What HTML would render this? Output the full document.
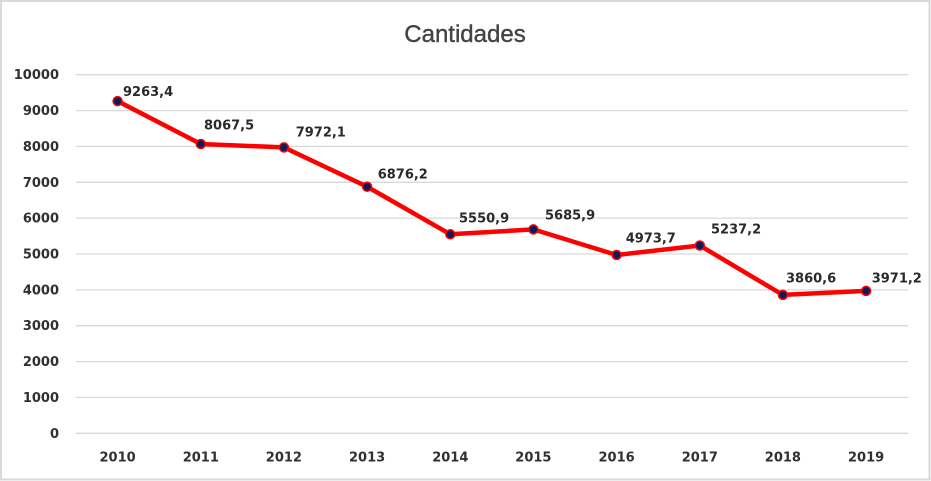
<!DOCTYPE html>
<html>
<head>
<meta charset="utf-8">
<style>
html,body{margin:0;padding:0;background:#fff;}
svg{display:block;}
</style>
</head>
<body>
<svg width="931" height="481" viewBox="0 0 931 481" xmlns="http://www.w3.org/2000/svg">
  <rect x="1" y="1" width="928.5" height="478.5" fill="#fff" stroke="#d9d9d9" stroke-width="2"/>
  <text x="465" y="42" text-anchor="middle" font-family="Liberation Sans, sans-serif" font-size="24" fill="#444444" stroke="#444444" stroke-width="0.4">Cantidades</text>
  <g stroke="#d9d9d9" stroke-width="1.3">
    <line x1="76" x2="908" y1="433.3" y2="433.3"/>
    <line x1="76" x2="908" y1="397.4" y2="397.4"/>
    <line x1="76" x2="908" y1="361.6" y2="361.6"/>
    <line x1="76" x2="908" y1="325.7" y2="325.7"/>
    <line x1="76" x2="908" y1="289.9" y2="289.9"/>
    <line x1="76" x2="908" y1="254.0" y2="254.0"/>
    <line x1="76" x2="908" y1="218.1" y2="218.1"/>
    <line x1="76" x2="908" y1="182.3" y2="182.3"/>
    <line x1="76" x2="908" y1="146.4" y2="146.4"/>
    <line x1="76" x2="908" y1="110.6" y2="110.6"/>
    <line x1="76" x2="908" y1="74.7" y2="74.7"/>
  </g>
  <g font-family="DejaVu Sans, sans-serif" font-weight="bold" font-size="13" fill="#303030" text-anchor="end">
    <text x="59" y="437.8">0</text>
    <text x="59" y="401.9">1000</text>
    <text x="59" y="366.1">2000</text>
    <text x="59" y="330.2">3000</text>
    <text x="59" y="294.4">4000</text>
    <text x="59" y="258.5">5000</text>
    <text x="59" y="222.6">6000</text>
    <text x="59" y="186.8">7000</text>
    <text x="59" y="150.9">8000</text>
    <text x="59" y="115.1">9000</text>
    <text x="59" y="79.2">10000</text>
  </g>
  <g font-family="DejaVu Sans, sans-serif" font-weight="bold" font-size="13" fill="#303030" text-anchor="middle">
    <text x="117.6" y="461.5">2010</text>
    <text x="200.8" y="461.5">2011</text>
    <text x="283.9" y="461.5">2012</text>
    <text x="367.1" y="461.5">2013</text>
    <text x="450.3" y="461.5">2014</text>
    <text x="533.4" y="461.5">2015</text>
    <text x="616.6" y="461.5">2016</text>
    <text x="699.8" y="461.5">2017</text>
    <text x="782.9" y="461.5">2018</text>
    <text x="866.1" y="461.5">2019</text>
  </g>
  <polyline fill="none" stroke="#ff0000" stroke-width="4.5" stroke-linejoin="round" stroke-linecap="round"
    points="117.6,101.1 200.8,144.0 283.9,147.4 367.1,186.7 450.3,234.3 533.4,229.4 616.6,255.0 699.8,245.5 782.9,294.9 866.1,290.9"/>
  <g fill="#0d1b5a" stroke="#ff0000" stroke-width="1.5">
    <circle cx="117.6" cy="101.1" r="4.5"/>
    <circle cx="200.8" cy="144.0" r="4.5"/>
    <circle cx="283.9" cy="147.4" r="4.5"/>
    <circle cx="367.1" cy="186.7" r="4.5"/>
    <circle cx="450.3" cy="234.3" r="4.5"/>
    <circle cx="533.4" cy="229.4" r="4.5"/>
    <circle cx="616.6" cy="255.0" r="4.5"/>
    <circle cx="699.8" cy="245.5" r="4.5"/>
    <circle cx="782.9" cy="294.9" r="4.5"/>
    <circle cx="866.1" cy="290.9" r="4.5"/>
  </g>
  <g font-family="DejaVu Sans, sans-serif" font-weight="bold" font-size="13" fill="#2a2a2a">
    <text x="123" y="96">9263,4</text>
    <text x="204" y="129.3">8067,5</text>
    <text x="295.7" y="136.7">7972,1</text>
    <text x="377.7" y="178.3">6876,2</text>
    <text x="459" y="222.7">5550,9</text>
    <text x="545" y="219.3">5685,9</text>
    <text x="625.7" y="242.7">4973,7</text>
    <text x="711" y="233.3">5237,2</text>
    <text x="786" y="282.3">3860,6</text>
    <text x="871.7" y="282.3">3971,2</text>
  </g>
</svg>
</body>
</html>
